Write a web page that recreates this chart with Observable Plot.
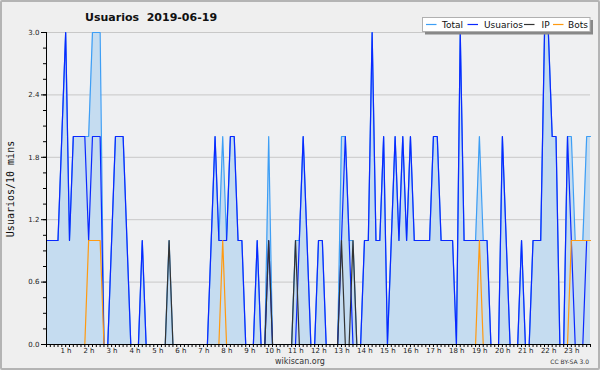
<!DOCTYPE html>
<html><head><meta charset="utf-8">
<script src="https://cdn.jsdelivr.net/npm/d3@7"></script>
<script src="https://cdn.jsdelivr.net/npm/@observablehq/plot@0.6"></script>
<style>
body{margin:0;background:#fff;}
#wrap{position:relative;width:600px;height:370px;background:#efefef;overflow:hidden;}
#wrap svg{position:absolute;left:0;top:0;}
#border{position:absolute;left:0;top:0;width:600px;height:370px;box-sizing:border-box;border:2px solid #b4b4b4;border-radius:2px;pointer-events:none;}
</style></head>
<body><div id="wrap"><div id="border"></div></div>
<script>
// 10-minute intervals, 2019-06-19
const usuarios = [
 1,1,1,1,2,3,1,2,2,2,
 2,1,2,2,2,0,0,1,2,2,
 2,1,0,0,0,1,0,0,0,0,
 0,0,0,0,0,0,0,0,0,0,
 0,0,0,1,2,1,1,1,2,2,
 1,1,0,0,0,1,0,0,1,0,
 0,0,0,0,0,0,1,2,1,0,
 0,1,1,0,0,0,0,1,2,1,
 0,0,0,1,1,3,1,1,2,0,
 1,2,1,2,1,2,1,1,1,1,
 1,2,2,1,1,1,1,0,3,1,
 1,1,1,1,1,1,0,0,0,2,
 1,0,0,0,1,0,0,1,1,1,
 3,3,2,2,0,0,2,1,0,0,
 0,1,1];
const ip = [
 0,0,0,0,0,0,0,0,0,0,
 0,0,0,0,0,0,0,0,0,0,
 0,0,0,0,0,0,0,0,0,0,
 0,0,1,0,0,0,0,0,0,0,
 0,0,0,0,0,0,0,0,0,0,
 0,0,0,0,0,0,0,0,1,0,
 0,0,0,0,0,1,0,0,0,0,
 0,0,0,0,0,0,0,1,0,0,
 1,0,0,0,0,0,0,0,0,0,
 0,0,0,0,0,0,0,0,0,0,
 0,0,0,0,0,0,0,0,0,0,
 0,0,0,0,0,0,0,0,0,0,
 0,0,0,0,0,0,0,0,0,0,
 0,0,0,0,0,0,0,0,0,0,
 0,0,0];
const bots = [
 0,0,0,0,0,0,0,0,0,0,
 0,1,1,1,1,0,0,0,0,0,
 0,0,0,0,0,0,0,0,0,0,
 0,0,0,0,0,0,0,0,0,0,
 0,0,0,0,0,0,1,0,0,0,
 0,0,0,0,0,0,0,0,0,0,
 0,0,0,0,0,0,0,0,0,0,
 0,0,0,0,0,0,0,0,0,0,
 0,0,0,0,0,0,0,0,0,0,
 0,0,0,0,0,0,0,0,0,0,
 0,0,0,0,0,0,0,0,0,0,
 0,0,0,1,0,0,0,0,0,0,
 0,0,0,0,0,0,0,0,0,0,
 0,0,0,0,0,0,0,1,1,1,
 1,1,1];
const total = [
 1,1,1,1,2,3,1,2,2,2,
 2,2,3,3,3,0,0,1,2,2,
 2,1,0,0,0,1,0,0,0,0,
 0,0,1,0,0,0,0,0,0,0,
 0,0,0,1,2,1,2,1,2,2,
 1,1,0,0,0,1,0,0,2,0,
 0,0,0,0,0,1,1,2,1,0,
 0,1,1,0,0,0,0,2,2,1,
 1,0,0,1,1,3,1,1,2,0,
 1,2,1,2,1,2,1,1,1,1,
 1,2,2,1,1,1,1,0,3,1,
 1,1,1,2,1,1,0,0,0,2,
 1,0,0,0,1,0,0,1,1,1,
 3,3,2,2,0,0,2,2,1,1,
 1,2,2];

const hourTicks = [6,12,18,24,30,36,42,48,54,60,66,72,78,84,90,96,102,108,114,120,126,132,138];
const hourLabels = ["1 h","2 h","3 h","4 h","5 h","6 h","7 h","8 h","9 h","10 h","11 h","12 h","13 h","14 h","15 h","16 h","17 h","18 h","19 h","20 h","21 h","22 h","23 h"];
const yTicks = [0, 0.6, 1.2, 1.8, 2.4, 3.0];
const yTickLabels = ["0.0","0.6","1.2","1.8","2.4","3.0"];
const yMinorTicks = [0,0.15,0.3,0.45,0.6,0.75,0.9,1.05,1.2,1.35,1.5,1.65,1.8,1.95,2.1,2.25,2.4,2.55,2.7,2.85,3.0];

const series = [
  {name:"Total", color:"#3d9ef5"},
  {name:"Usuarios", color:"#0a28ff"},
  {name:"IP", color:"#333333"},
  {name:"Bots", color:"#ff9a10"}
];

const idx = d3.range(total.length);
const rows = idx.map(i => ({i, total: total[i], usuarios: usuarios[i], ip: ip[i], bots: bots[i]}));

const svgEl = Plot.plot({
  width: 600, height: 370,
  marginLeft: 46, marginRight: 10, marginTop: 32, marginBottom: 26,
  style: {background: "transparent", fontFamily: "DejaVu Sans", fontSize: "7px", color: "#222", overflow: "visible"},
  x: {domain: [0, idx.length - 1], axis: null, label: null},
  y: {domain: [0, 3], axis: null, label: null},
  marks: [
    Plot.frame({fill: "#eff0f2", stroke: null}),
    Plot.gridY(yTicks, {stroke: "#c8c8c8", strokeOpacity: 1}),
    Plot.areaY(rows, {x: "i", y: "total", fill: "#c5dcf0"}),
    Plot.lineY(rows, {x: "i", y: "total", stroke: series[0].color, strokeWidth: 1.2}),
    Plot.lineY(rows, {x: "i", y: "usuarios", stroke: series[1].color, strokeWidth: 1.2}),
    Plot.lineY(rows, {x: "i", y: "ip", stroke: series[2].color, strokeWidth: 1.2}),
    Plot.lineY(rows, {x: "i", y: "bots", stroke: series[3].color, strokeWidth: 1.2}),
    Plot.axisY(yMinorTicks, {tickSize: 3, stroke: "#000", strokeOpacity: 1, label: null, tickFormat: () => ""}),
    Plot.axisY(yTicks, {tickSize: 5, tickPadding: 2, stroke: "#000", strokeOpacity: 1, label: null, tickFormat: d => yTickLabels[yTicks.indexOf(d)]}),
    Plot.axisX(idx, {tickSize: 3, stroke: "#000", strokeOpacity: 1, label: null, tickFormat: () => ""}),
    Plot.axisX(hourTicks, {tickSize: 0, tickPadding: 4, dx: -3.5, label: null, tickFormat: d => hourLabels[hourTicks.indexOf(d)]}),
    Plot.ruleX([0], {stroke: "#000"}),
    Plot.ruleY([0], {stroke: "#000"})
  ]
});
document.getElementById("wrap").insertBefore(svgEl, document.getElementById("border"));

const svg = d3.select(svgEl);
// title
svg.append("text").attr("x", 85).attr("y", 20.5).attr("text-anchor", "start")
  .attr("font-family", "DejaVu Sans").attr("font-weight", "bold").attr("font-size", 11).attr("fill", "#111")
  .attr("xml:space", "preserve").text("Usuarios  2019-06-19");
// y label
svg.append("text").attr("transform", "translate(14,189) rotate(-90)").attr("text-anchor", "middle")
  .attr("font-family", "DejaVu Sans Mono").attr("font-size", 10).attr("fill", "#111").text("Usuarios/10 mins");
// footer
svg.append("text").attr("x", 300).attr("y", 364).attr("text-anchor", "middle")
  .attr("font-family", "DejaVu Sans").attr("font-size", 8).attr("fill", "#333").text("wikiscan.org");
svg.append("text").attr("x", 589).attr("y", 364).attr("text-anchor", "end")
  .attr("font-family", "DejaVu Sans").attr("font-size", 6).attr("fill", "#333").text("CC BY-SA 3.0");
// legend
const lg = svg.append("g");
lg.append("rect").attr("x", 425).attr("y", 20).attr("width", 168).attr("height", 14.5).attr("fill", "#888");
lg.append("rect").attr("x", 422.5).attr("y", 17.5).attr("width", 167.5).attr("height", 14).attr("fill", "#fff").attr("stroke", "#b0b0b0");
const legendPos = [{lx: 426, tx: 442}, {lx: 467.5, tx: 484}, {lx: 524, tx: 541.5}, {lx: 553, tx: 568}];
series.forEach((s, k) => {
  const p = legendPos[k];
  lg.append("line").attr("x1", p.lx).attr("x2", p.lx + 10.5).attr("y1", 24.5).attr("y2", 24.5).attr("stroke", s.color).attr("stroke-width", 1.2);
  lg.append("text").attr("x", p.tx).attr("y", 28).attr("text-anchor", "start").attr("font-family", "DejaVu Sans").attr("font-size", 9).attr("fill", "#111").text(s.name);
});
</script></body></html>
